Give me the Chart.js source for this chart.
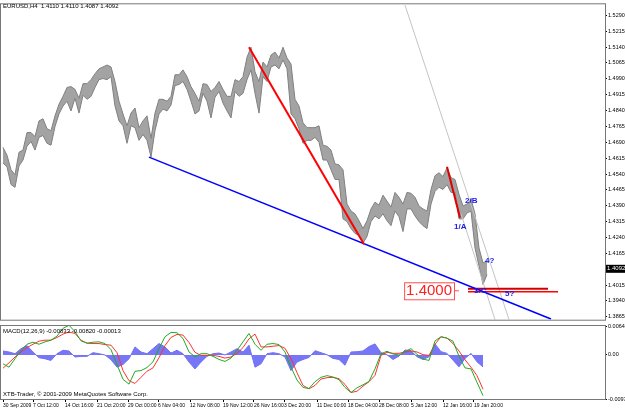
<!DOCTYPE html>
<html>
<head>
<meta charset="utf-8">
<script src="https://cdn.jsdelivr.net/npm/chart.js@4.4.1/dist/chart.umd.min.js"></script>
<style>
body { margin: 0; background: #fff; }
#wrap { position: relative; width: 625px; height: 409px; background: #fff; }
canvas { position: absolute; left: 0; }
#cPrice { top: 0; }
#cMacd { top: 314px; }
</style>
</head>
<body>
<div id="wrap">
<canvas id="cPrice" width="625" height="324"></canvas>
<canvas id="cMacd" width="625" height="95"></canvas>
</div>
<script>
// EURUSD H4, one sample every 4 bars starting at bar 2
const barStart = 2, barStep = 4;
const highs = [
  1.4666,1.4629,1.4560,1.4537,1.4643,1.4653,1.4736,1.4736,1.4717,1.4791,
  1.4801,1.4754,1.4745,1.4815,1.4870,1.4907,1.4949,1.4953,1.4940,1.4898,
  1.4967,1.4967,1.4986,1.5014,1.5037,1.5046,1.5055,1.5046,1.4977,1.4884,
  1.4824,1.4768,1.4828,1.4852,1.4759,1.4791,1.4815,1.4708,1.4828,1.4893,
  1.4893,1.4884,1.4907,1.5009,1.5009,1.5032,1.5000,1.4953,1.4921,1.4884,
  1.4967,1.4963,1.4930,1.4949,1.4977,1.4940,1.4907,1.4907,1.4986,1.4977,
  1.5000,1.5092,1.5139,1.5023,1.4977,1.5069,1.5046,1.5102,1.5116,1.5088,
  1.5139,1.5088,1.5060,1.4893,1.4861,1.4782,1.4759,1.4759,1.4759,1.4768,
  1.4676,1.4671,1.4653,1.4588,1.4583,1.4560,1.4398,1.4365,1.4352,1.4319,
  1.4282,1.4319,1.4375,1.4407,1.4393,1.4440,1.4412,1.4384,1.4453,1.4430,
  1.4398,1.4453,1.4449,1.4430,1.4389,1.4375,1.4365,1.4467,1.4532,1.4546,
  1.4528,1.4569,1.4523,1.4514,1.4444,1.4389,1.4398,1.4421,1.4352,1.4190,
  1.4120,1.4129
];
const lows = [
  1.4592,1.4574,1.4490,1.4477,1.4578,1.4606,1.4671,1.4694,1.4653,1.4713,
  1.4722,1.4685,1.4676,1.4764,1.4824,1.4861,1.4884,1.4838,1.4898,1.4828,
  1.4912,1.4893,1.4907,1.4949,1.4986,1.4991,1.4986,1.5000,1.4861,1.4791,
  1.4768,1.4685,1.4768,1.4759,1.4699,1.4727,1.4699,1.4620,1.4745,1.4824,
  1.4847,1.4838,1.4866,1.4958,1.4963,1.4977,1.4940,1.4884,1.4824,1.4838,
  1.4921,1.4884,1.4805,1.4903,1.4930,1.4875,1.4838,1.4805,1.4930,1.4907,
  1.4921,1.4986,1.5032,1.4921,1.4828,1.5000,1.4977,1.5046,1.5055,1.5037,
  1.5079,1.5037,1.4824,1.4801,1.4754,1.4685,1.4699,1.4699,1.4713,1.4690,
  1.4606,1.4606,1.4560,1.4514,1.4514,1.4328,1.4315,1.4282,1.4259,1.4250,
  1.4213,1.4245,1.4315,1.4342,1.4328,1.4352,1.4319,1.4296,1.4365,1.4338,
  1.4268,1.4375,1.4375,1.4342,1.4315,1.4296,1.4282,1.4398,1.4458,1.4477,
  1.4467,1.4490,1.4453,1.4453,1.4328,1.4328,1.4356,1.4365,1.4190,1.4106,
  1.4018,1.4065
];
const lastPrice = 1.4092;
const headerText = 'EURUSD,H4  1.4110 1.4110 1.4087 1.4092';
const priceTicks = [1.5290,1.5215,1.5140,1.5065,1.4990,1.4915,1.4840,1.4765,1.4690,
  1.4615,1.4540,1.4465,1.4390,1.4315,1.4240,1.4165,1.4015,1.3940,1.3865];

// drawn objects, in [bar, price] pairs
const blueTrend = [[148, 1.4620], [550, 1.3855]];
const redWave1 = [[248, 1.5139], [363, 1.4208]];
const redWave2 = [[446, 1.4574], [459, 1.4333]];
const greyChannelA = [[404, 1.5338], [508, 1.3852]];
const greyChannelB = [[460, 1.4352], [494, 1.3852]];
const levelTop = [[467, 1.3998], [547, 1.3998]];
const levelLow = [[467, 1.3984], [557, 1.3984]];
const levelText = '1.4000', levelValue = 1.4000, levelBar = 458;
const waveNames = ['1/A', '2/B', '3/C', '4?', '5?'];
const waveBars = [459, 470, 479, 490, 510];
const wavePrices = [1.4291, 1.4412, 1.3988, 1.4129, 1.3974];

// MACD(12,26,9), one sample every 6 bars starting at bar 2
const macdStart = 2, macdStep = 6;
const macdMain = [
  -0.00196,-0.00270,-0.00084,0.00103,0.00237,0.00282,0.00237,0.00290,0.00327,0.00417,
  0.00588,0.00656,0.00514,0.00312,0.00260,0.00282,0.00290,0.00252,0.00118,-0.00211,
  -0.00539,-0.00644,-0.00360,-0.00345,-0.00278,-0.00151,0.00140,0.00402,0.00499,0.00491,
  0.00364,0.00066,-0.00039,0.00028,0.00028,-0.00031,-0.00099,-0.00143,-0.00069,0.00103,
  0.00290,0.00476,0.00237,0.00103,0.00237,0.00252,0.00230,0.00066,-0.00270,-0.00554,
  -0.00718,-0.00741,-0.00591,-0.00494,-0.00457,-0.00487,-0.00547,-0.00718,-0.00830,-0.00726,
  -0.00659,-0.00584,-0.00308,0.00028,0.00081,0.00021,-0.00001,0.00073,0.00140,0.00013,
  -0.00091,-0.00121,0.00312,0.00402,0.00372,0.00305,-0.00031,-0.00285,-0.00308,-0.00606,
  -0.00898
];
const macdSignal = [
  -0.00293,-0.00173,-0.00046,0.00066,0.00163,0.00237,0.00305,0.00327,0.00327,0.00387,
  0.00461,0.00506,0.00476,0.00327,0.00260,0.00252,0.00252,0.00230,0.00215,0.00051,
  -0.00345,-0.00569,-0.00629,-0.00494,-0.00360,-0.00285,-0.00061,0.00207,0.00387,0.00454,
  0.00439,0.00275,0.00058,-0.00009,-0.00009,-0.00009,-0.00031,-0.00069,-0.00046,0.00036,
  0.00163,0.00357,0.00461,0.00178,0.00178,0.00193,0.00207,0.00148,-0.00084,-0.00390,
  -0.00674,-0.00748,-0.00674,-0.00532,-0.00502,-0.00494,-0.00524,-0.00651,-0.00830,-0.00801,
  -0.00689,-0.00591,-0.00450,-0.00009,0.00058,0.00036,0.00036,0.00066,0.00088,0.00066,
  0.00006,-0.00009,0.00237,0.00402,0.00372,0.00252,0.00088,-0.00106,-0.00270,-0.00457,
  -0.00756
];
const macdHist = [
  0.00088,0.00066,0.00028,0.00140,0.00207,0.00066,-0.00061,-0.00084,-0.00121,0.00028,
  0.00103,0.00088,-0.00046,-0.00031,-0.00031,0.00051,0.00028,0.00000,-0.00106,-0.00270,
  -0.00211,-0.00084,0.00178,0.00066,0.00028,0.00140,0.00252,0.00178,0.00043,0.00103,
  0.00028,-0.00158,-0.00308,-0.00158,-0.00031,0.00028,0.00043,0.00000,0.00066,0.00140,
  0.00066,0.00215,-0.00270,-0.00196,0.00028,0.00051,0.00028,-0.00046,-0.00345,-0.00158,
  -0.00100,-0.00055,0.00095,0.00050,0.00005,-0.00076,-0.00100,-0.00227,0.00066,0.00073,
  0.00088,0.00185,0.00245,0.00050,0.00005,-0.00100,-0.00025,0.00110,0.00095,-0.00040,
  -0.00100,-0.00040,0.00245,0.00073,0.00035,-0.00115,-0.00264,-0.00076,0.00035,-0.00152,
  -0.00264
];
const macdHeader = 'MACD(12,26,9) -0.00833 -0.00820 -0.00013';
const copyright = 'XTB-Trader, \u00a9 2001-2009 MetaQuotes Software Corp.';
const macdTicks = [0.0064, 0, -0.00973];
const macdTickLabels = ['0.00640', '0.00', '-0.00973'];

const timeLabels = ['30 Sep 2009','7 Oct 12:00','14 Oct 16:00','21 Oct 20:00','29 Oct 00:00',
  '6 Nov 04:00','12 Nov 08:00','19 Nov 12:00','26 Nov 16:00','3 Dec 20:00','11 Dec 00:00',
  '18 Dec 04:00','28 Dec 08:00','5 Jan 12:00','12 Jan 16:00','19 Jan 20:00'];
const timeBars = [2, 32, 64, 96, 127, 157, 189, 222, 253, 283, 316, 347, 378, 410, 442, 473];

const FONT = "'Liberation Sans', Arial, sans-serif";

function series(values, start, step) {
  return values.map((v, i) => ({ x: start + i * step, y: v }));
}
function seg(pts, color, width, order) {
  return {
    data: pts.map(p => ({ x: p[0], y: p[1] })),
    borderColor: color, borderWidth: width, pointRadius: 0, fill: false, order: order
  };
}

const framePlugin = {
  id: 'frame',
  afterDraw(chart) {
    const a = chart.chartArea, ctx = chart.ctx;
    ctx.save();
    ctx.strokeStyle = '#777';
    ctx.lineWidth = 1;
    ctx.strokeRect(a.left - 0.5, a.top - 0.5, a.right - a.left + 1, a.bottom - a.top + 1);
    ctx.restore();
  }
};

const priceText = {
  id: 'priceText',
  afterDraw(chart) {
    const ctx = chart.ctx, xs = chart.scales.x, ys = chart.scales.y;
    ctx.save();
    ctx.textBaseline = 'top';
    ctx.fillStyle = '#000';
    ctx.font = '6px ' + FONT;
    ctx.fillText(headerText, 3, 3);

    // current price box on the axis
    const py = ys.getPixelForValue(lastPrice);
    ctx.fillStyle = '#000';
    ctx.fillRect(606, py - 4, 19, 8);
    ctx.fillStyle = '#fff';
    ctx.textBaseline = 'middle';
    ctx.fillText(lastPrice.toFixed(4), 607, py);

    // wave labels
    ctx.font = 'bold 8px ' + FONT;
    ctx.fillStyle = '#1a1ae6';
    ctx.textAlign = 'left';
    waveNames.forEach((t, i) => {
      ctx.fillText(t, xs.getPixelForValue(waveBars[i]) - 6, ys.getPixelForValue(wavePrices[i]));
    });

    // 1.4000 price label
    const ly = ys.getPixelForValue(levelValue) + 2;
    const lx = xs.getPixelForValue(levelBar);
    ctx.font = '15px ' + FONT;
    const w = ctx.measureText(levelText).width + 4;
    const bx = lx - 5 - w;
    ctx.fillStyle = '#fff';
    ctx.fillRect(bx, ly - 8, w, 17);
    ctx.strokeStyle = '#ff5050';
    ctx.lineWidth = 1;
    ctx.strokeRect(bx + 0.5, ly - 8 + 0.5, w, 17);
    ctx.beginPath();
    ctx.moveTo(lx - 5, ly + 0.5);
    ctx.lineTo(lx, ly + 0.5);
    ctx.stroke();
    ctx.fillStyle = '#ff2020';
    ctx.fillText(levelText, bx + 2, ly + 1);
    ctx.restore();
  }
};

const macdText = {
  id: 'macdText',
  afterDraw(chart) {
    const ctx = chart.ctx, a = chart.chartArea;
    ctx.save();
    ctx.fillStyle = '#000';
    ctx.font = '6px ' + FONT;
    ctx.textBaseline = 'top';
    ctx.fillText(macdHeader, 3, a.top + 2);
    ctx.fillText(copyright, 3, a.bottom - 8);
    ctx.restore();
  }
};

new Chart(document.getElementById('cPrice'), {
  type: 'line',
  data: {
    datasets: [
      seg(redWave1, '#ff0000', 2, 0),
      seg(redWave2, '#e00000', 2, 0),
      seg(blueTrend, '#0000ff', 1.5, 1),
      seg(greyChannelA, '#c4c4c4', 1, 2),
      seg(greyChannelB, '#c4c4c4', 1, 2),
      seg(levelTop, '#d00000', 2, 1),
      seg(levelLow, '#ff0000', 1.5, 1),
      {
        data: series(highs, barStart, barStep),
        borderColor: '#808080', borderWidth: 1, pointRadius: 0, fill: false, order: 5
      },
      {
        data: series(lows, barStart, barStep),
        borderColor: '#808080', borderWidth: 1, pointRadius: 0,
        fill: '-1', backgroundColor: '#a3a3a3', order: 5
      }
    ]
  },
  options: {
    responsive: false,
    animation: false,
    devicePixelRatio: 1,
    layout: { padding: { left: 1, top: 1, right: 0, bottom: 1 } },
    plugins: { legend: { display: false }, tooltip: { enabled: false } },
    scales: {
      x: { type: 'linear', min: 0, max: 604, display: false },
      y: {
        type: 'linear', position: 'right', min: 1.38515, max: 1.5342,
        afterFit(s) { s.width = 20; },
        afterBuildTicks(s) { s.ticks = priceTicks.map(v => ({ value: v })); },
        ticks: { callback: v => v.toFixed(4), font: { family: FONT, size: 5.5 }, color: '#000', padding: 1 },
        grid: { drawOnChartArea: false, tickLength: 2, color: '#000' },
        border: { display: false }
      }
    }
  },
  plugins: [framePlugin, priceText]
});

new Chart(document.getElementById('cMacd'), {
  type: 'line',
  data: {
    datasets: [
      {
        data: series(macdMain, macdStart, macdStep),
        borderColor: '#22aa22', borderWidth: 1, pointRadius: 0, fill: false, order: 0
      },
      {
        data: series(macdSignal, macdStart, macdStep),
        borderColor: '#ff3030', borderWidth: 1, pointRadius: 0, fill: false, order: 0
      },
      {
        data: series(macdHist, macdStart, macdStep),
        borderColor: '#7070f4', borderWidth: 1, pointRadius: 0,
        fill: 'origin', backgroundColor: '#7676f6', order: 3
      }
    ]
  },
  options: {
    responsive: false,
    animation: false,
    devicePixelRatio: 1,
    layout: { padding: { left: 1, top: 12, right: 0, bottom: 0 } },
    plugins: { legend: { display: false }, tooltip: { enabled: false } },
    scales: {
      x: {
        type: 'linear', position: 'bottom', min: 0, max: 604,
        afterFit(s) { s.height = 10; },
        afterBuildTicks(s) { s.ticks = timeBars.map(v => ({ value: v })); },
        ticks: {
          callback: v => timeLabels[timeBars.indexOf(v)],
          align: 'start', maxRotation: 0, minRotation: 0, autoSkip: false,
          font: { family: FONT, size: 5 }, color: '#000', padding: 1
        },
        grid: { drawOnChartArea: false, tickLength: 3, color: '#000' },
        border: { display: false }
      },
      y: {
        type: 'linear', position: 'right', min: -0.00973, max: 0.0064,
        afterFit(s) { s.width = 20; },
        afterBuildTicks(s) { s.ticks = macdTicks.map(v => ({ value: v })); },
        ticks: {
          callback: v => macdTickLabels[macdTicks.indexOf(v)],
          font: { family: FONT, size: 5.5 }, color: '#000', padding: 1
        },
        grid: { drawOnChartArea: false, tickLength: 2, color: '#000' },
        border: { display: false }
      }
    }
  },
  plugins: [framePlugin, macdText]
});
</script>
</body>
</html>
